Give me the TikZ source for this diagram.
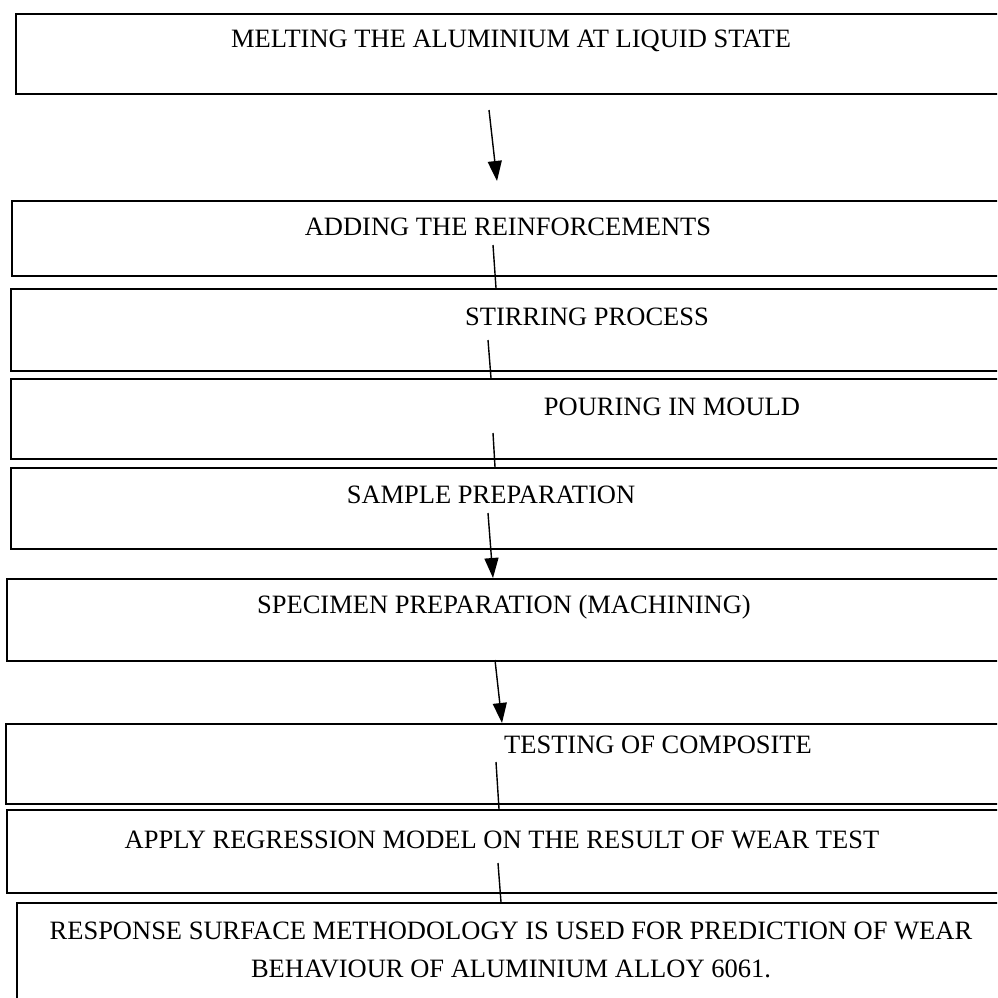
\documentclass[tikz,border=0pt]{standalone}
\usepackage{fontspec}
\setmainfont{Liberation Serif}
\usetikzlibrary{arrows.meta,positioning}

\begin{document}
\begin{tikzpicture}[x=1pt, y=-1pt,
    stage/.style={rectangle, draw, line width=2pt, anchor=north west, inner sep=0pt},
    caption/.style={anchor=base, inner sep=0pt, font=\fontsize{26.5}{38}\selectfont, align=center},
    flow/.style={line width=1.4pt, -{Triangle[length=20pt, width=14pt]}},
    link/.style={line width=1.4pt}]
    \useasboundingbox (0,0) rectangle (997,998);
    \clip (0,0) rectangle (997,998);

    \node [stage, minimum width=995pt, minimum height=80pt] (melt) at (15,13) {};
    \node [stage, minimum width=999pt, minimum height=75pt] (reinf) at (11,200) {};
    \node [stage, minimum width=1000pt, minimum height=82pt] (stir) at (10,288) {};
    \node [stage, minimum width=1000pt, minimum height=80pt] (pour) at (10,378) {};
    \node [stage, minimum width=1000pt, minimum height=81pt] (sample) at (10,467) {};
    \node [stage, minimum width=1004pt, minimum height=82pt] (spec) at (6,578) {};
    \node [stage, minimum width=1005pt, minimum height=80pt] (test) at (5,723) {};
    \node [stage, minimum width=1004pt, minimum height=83pt] (regr) at (6,809) {};
    \node [stage, minimum width=994pt, minimum height=110pt] (rsm) at (16,902) {};

    \node [caption] (meltT) at (511,48) {MELTING THE ALUMINIUM AT LIQUID STATE};
    \node [caption] (reinfT) at (508,235) {ADDING THE REINFORCEMENTS};
    \node [caption] (stirT) at (587,325) {STIRRING PROCESS};
    \node [caption] (pourT) at (672,415) {POURING IN MOULD};
    \node [caption] (sampleT) at (491,503) {SAMPLE PREPARATION};
    \node [caption] (specT) at (504,613) {SPECIMEN PREPARATION (MACHINING)};
    \node [caption] (testT) at (658,753) {TESTING OF COMPOSITE};
    \node [caption] (regrT) at (502,848) {APPLY REGRESSION MODEL ON THE RESULT OF WEAR TEST};
    \node [caption, anchor=north] (rsmT) at (511,922) {RESPONSE SURFACE METHODOLOGY IS USED FOR PREDICTION OF WEAR\\BEHAVIOUR OF ALUMINIUM ALLOY 6061.};

    \coordinate (s1) at (489,110);
    \coordinate (e1) at (497,181);
    \coordinate (s2) at (493,245);
    \coordinate (s3) at (488,340);
    \coordinate (s4) at (493,433);
    \coordinate (s5) at (488,513);
    \coordinate (s6) at (495,660);
    \coordinate (s7) at (496,762);
    \coordinate (s8) at (498,863);

    \draw [flow] (s1) -- (e1);
    \draw [link] (s2) -- (stir.north west -| 496,0);
    \draw [link] (s3) -- (pour.north west -| 491,0);
    \draw [link] (s4) -- (sample.north west -| 495,0);
    \draw [flow] (s5) -- (spec.north west -| 493,0);
    \draw [flow] (s6) -- (test.north west -| 502,0);
    \draw [link] (s7) -- (regr.north west -| 499,0);
    \draw [link] (s8) -- (rsm.north west -| 501,0);
\end{tikzpicture}
\end{document}
